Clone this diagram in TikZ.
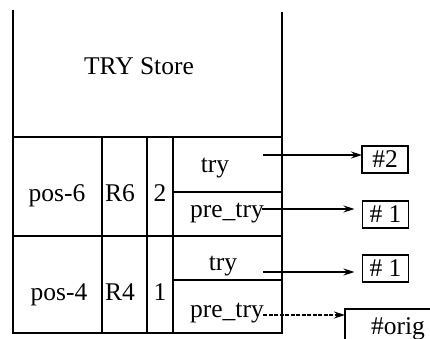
\documentclass[tikz,border=0pt]{standalone}
\usepackage{fontspec}
\setmainfont{Liberation Serif}
\usetikzlibrary{arrows.meta}
\begin{document}
\begin{tikzpicture}[x=1pt,y=-1pt,
  every node/.style={inner sep=0pt,outer sep=0pt},
  lbl/.style={font=\fontsize{25.5}{27}\selectfont,anchor=base},
  frame/.style={line width=1.7pt},
  cell/.style={line width=1.4pt},
  ptr/.style={draw,line width=1.8pt,minimum height=27pt,minimum width=46pt,font=\fontsize{25.5}{27}\selectfont},
  arr/.style={line width=1.3pt,-{Stealth[length=11pt,width=7pt]}}]
\useasboundingbox (0,0) rectangle (430,339);
\clip (0,0) rectangle (430,339);
% table
\draw[frame] (13,10) -- (13,333) -- (282,333) -- (282,12);
\draw[frame] (13,137) -- (282,137);
\draw[cell] (13,236) -- (282,236);
\draw[cell] (102,137) -- (102,333);
\draw[cell] (147,137) -- (147,333);
\draw[cell] (173,137) -- (173,333);
\draw[cell] (173,192) -- (282,192);
\draw[cell] (173,280) -- (282,280);
% texts
\node[lbl] (title) at (139,75) {TRY Store};
\node[lbl] (p6) at (57,201) {pos-6};
\node[lbl] (r6) at (120,201) {R6};
\node[lbl] (n2) at (160,201) {2};
\node[lbl] (t6) at (215,172) {try};
\node[lbl] (pt6) at (227,217) {pre\_try};
\node[lbl] (p4) at (59,300) {pos-4};
\node[lbl] (r4) at (120,300) {R4};
\node[lbl] (n1) at (160,300) {1};
\node[lbl] (t4) at (223,270) {try};
\node[lbl] (pt4) at (227,317) {pre\_try};
% pointer boxes
\node[ptr] (b2) at (385,159.5) {\#2};
\node[ptr] (b1a) at (385.5,214.5) {\# 1};
\node[ptr] (b1b) at (385.5,268.5) {\# 1};
\node[draw,line width=1.8pt,minimum width=100pt,minimum height=60pt,anchor=north west] (bo) at (345,309) {};
\node[lbl] (orig) at (398,334) {\#orig};
% arrows
\coordinate (s1) at (263,155);
\coordinate (s2) at (262,209);
\coordinate (s3) at (263,272);
\coordinate (s4) at (263,315);
\draw[arr] (s1) -- (s1 -| b2.west);
\draw[arr,shorten >=8pt] (s2) -- (s2 -| b1a.west);
\draw[arr,shorten >=8pt] (s3) -- (s3 -| b1b.west);
\draw[arr,dashed,dash pattern=on 4pt off 1.5pt] (s4) -- (s4 -| bo.west);
\end{tikzpicture}
\end{document}
